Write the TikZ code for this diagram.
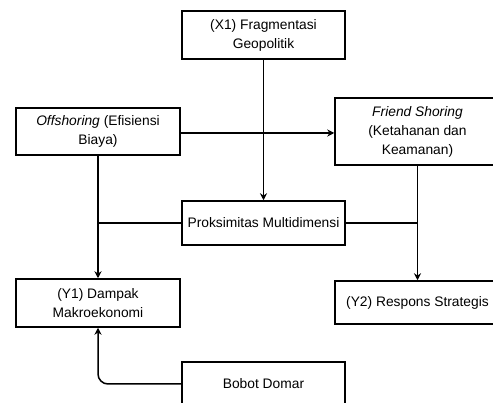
\documentclass[tikz,border=0pt]{standalone}
\usepackage{fontspec}
\setmainfont{Liberation Sans}
\usetikzlibrary{arrows.meta}
\begin{document}
\begin{tikzpicture}[x=1pt,y=-1pt,
  box/.style={draw, line width=1.5pt, rectangle, align=center, inner sep=2pt,
    font=\fontsize{13.8}{19}\selectfont},
  conn/.style={line width=1.5pt},
  arr/.style={conn, -{Stealth[length=7pt,width=7pt]}}]
\useasboundingbox (0,0) rectangle (493,403);
\clip (0,0) rectangle (493,403);
\node[box, minimum width=163pt, minimum height=48pt] (x1) at (263.5,35) {(X1) Fragmentasi\\Geopolitik};
\node[box, minimum width=164pt, minimum height=47pt] (off) at (98,131.5) {\textit{Offshoring} (Efisiensi\\Biaya)};
\node[box, minimum width=165pt, minimum height=67pt] (fr) at (417.5,131.5) {\textit{Friend Shoring}\\(Ketahanan dan\\Keamanan)};
\node[box, minimum width=163pt, minimum height=44pt] (prox) at (263.5,223) {Proksimitas Multidimensi};
\node[box, minimum width=164pt, minimum height=48pt] (y1) at (98,303) {(Y1) Dampak\\Makroekonomi};
\node[box, minimum width=165pt, minimum height=43pt] (y2) at (417.5,302.5) {(Y2) Respons Strategis};
\node[box, minimum width=163pt, minimum height=44pt] (bd) at (263.5,384) {Bobot Domar};
\coordinate (jl) at (off.south |- prox.west);
\coordinate (jr) at (fr.south |- prox.east);
\draw[arr] ([yshift=-1.5pt]off.east) -- ([yshift=-1.5pt]fr.west);
\draw[arr] (x1.south) -- (prox.north);
\draw[arr] (off.south) -- (y1.north);
\draw[conn] (prox.west) -- (jl);
\draw[conn] (prox.east) -- (jr);
\draw[arr] (fr.south) -- (y2.north);
\draw[arr, rounded corners=10pt] (bd.west) -| (y1.south);
\end{tikzpicture}
\end{document}
